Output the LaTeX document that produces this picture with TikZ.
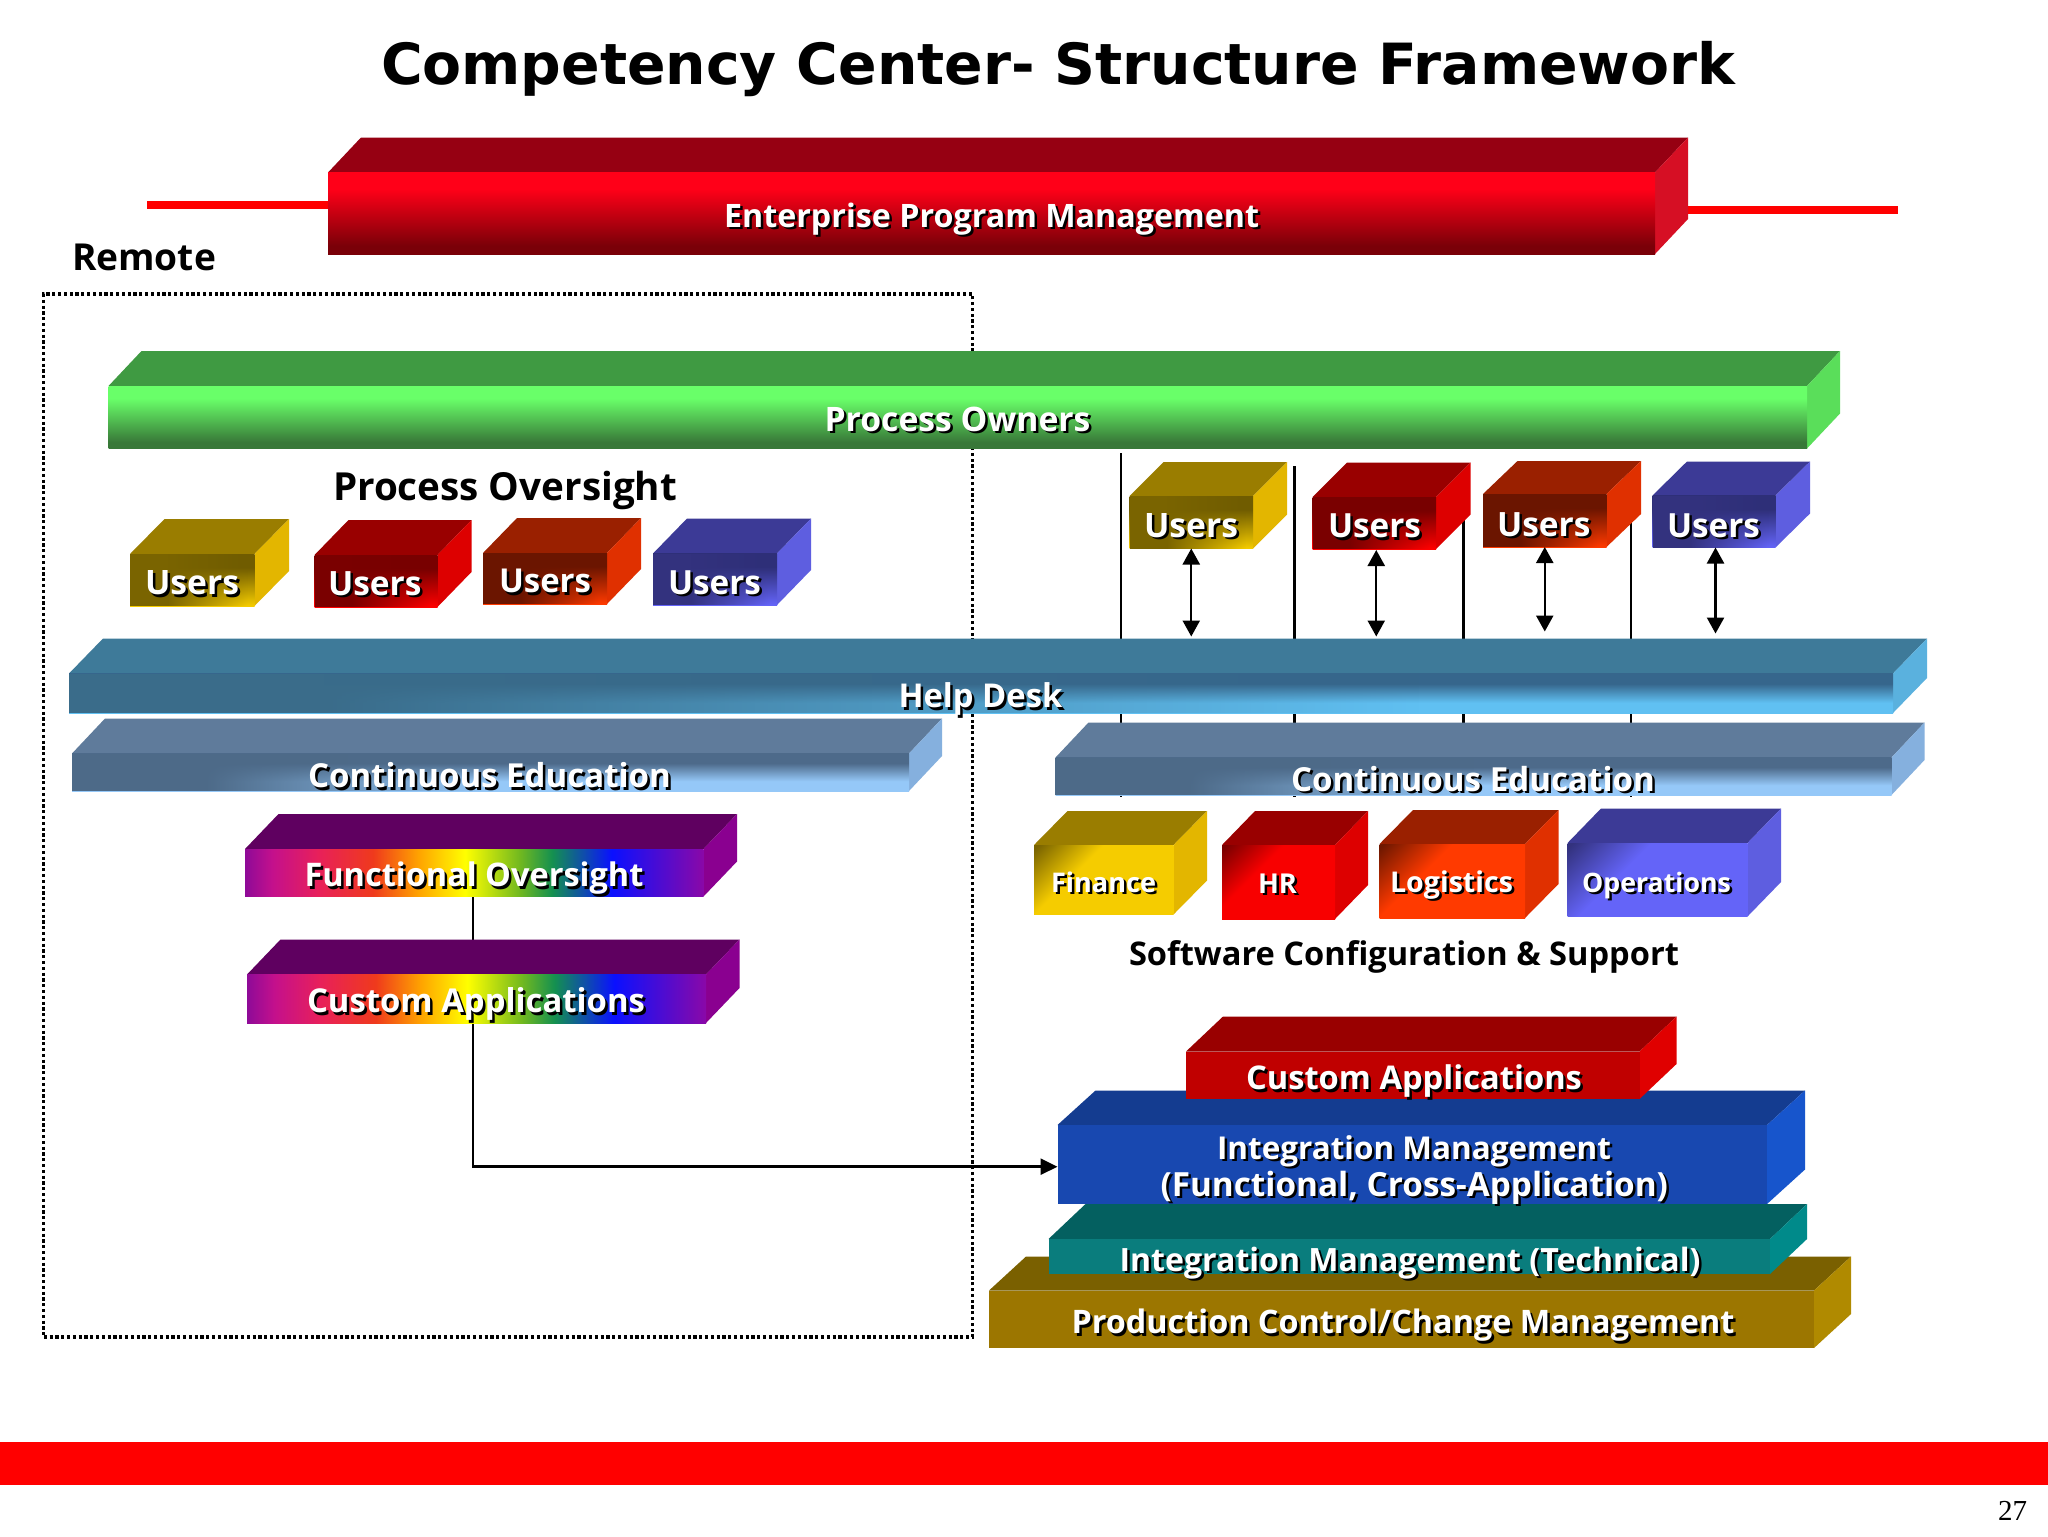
\documentclass[tikz,border=0pt]{standalone}
\usepackage{fontspec}
\usepackage{graphicx}
\setmainfont{Open Sans}[BoldFont={Open Sans Bold}]
\newfontfamily\titlefont{DejaVu Sans}[BoldFont={DejaVu Sans Bold}]
\newfontfamily\numfont{Liberation Serif}
\usetikzlibrary{arrows.meta,calc,fadings}
\pgfdeclarelayer{behind}
\pgfsetlayers{behind,main}
\definecolor{rA}{HTML}{8E0A98}\definecolor{rB}{HTML}{C4108C}\definecolor{rC}{HTML}{E8205A}
\definecolor{rD}{HTML}{EF3A1C}\definecolor{rE}{HTML}{FFA500}\definecolor{rF}{HTML}{FFFF00}
\definecolor{rG}{HTML}{70B820}\definecolor{rH}{HTML}{149050}\definecolor{rI}{HTML}{0A10FF}
\definecolor{rJ}{HTML}{8A08A8}
\definecolor{bA}{HTML}{000000}\definecolor{bB}{HTML}{000000}
\pgfdeclareverticalshading[bA,bB]{vband}{100bp}{color(0bp)=(bB); color(30bp)=(bB); color(65bp)=(bA); color(100bp)=(bA)}
\pgfdeclareverticalshading[bA,bB]{ushade}{100bp}{color(0bp)=(bB); color(25bp)=(bB); color(62bp)=(bA); color(100bp)=(bA)}
\pgfdeclareverticalshading[bA,bB]{dshade}{100bp}{color(0bp)=(bB); color(62bp)=(bB); color(84bp)=(bA); color(100bp)=(bA)}
\pgfdeclareverticalshading[bA,bB]{cshade}{100bp}{color(0bp)=(bB); color(38bp)=(bB); color(62bp)=(bA); color(100bp)=(bA)}
\pgfdeclarehorizontalshading{rainbow}{100bp}{
 color(0bp)=(rA); color(25bp)=(rA); color(28bp)=(rB); color(33bp)=(rC); color(39bp)=(rD);
 color(44bp)=(rE); color(49bp)=(rF); color(55bp)=(rG); color(58.5bp)=(rH);
 color(65bp)=(rI); color(75bp)=(rJ); color(100bp)=(rJ)}
% horizontal fades: opaque at the left, clear further right
\pgfdeclarehorizontalshading{hfuser}{100bp}{color(0bp)=(pgftransparent!0); color(40bp)=(pgftransparent!0); color(72bp)=(pgftransparent!100); color(100bp)=(pgftransparent!100)}
\pgfdeclarehorizontalshading{hfhelp}{100bp}{color(0bp)=(pgftransparent!0); color(32bp)=(pgftransparent!0); color(62bp)=(pgftransparent!100); color(100bp)=(pgftransparent!100)}
\pgfdeclarehorizontalshading{hfedu}{100bp}{color(0bp)=(pgftransparent!0); color(33bp)=(pgftransparent!0); color(50bp)=(pgftransparent!100); color(100bp)=(pgftransparent!100)}
\tikzfading[name=fadeuser,shading=hfuser]
\tikzfading[name=fadehelp,shading=hfhelp]
\tikzfading[name=fadeedu,shading=hfedu]
\definecolor{entT}{HTML}{960012}\definecolor{entS}{HTML}{D60F24}
\definecolor{ownT}{HTML}{3F9A42}\definecolor{ownS}{HTML}{5ADE5A}
\definecolor{goldT}{HTML}{9A7D00}\definecolor{goldS}{HTML}{E3B600}
\definecolor{redT}{HTML}{990000}\definecolor{redS}{HTML}{DD0000}
\definecolor{oraT}{HTML}{9A2000}\definecolor{oraS}{HTML}{E03000}
\definecolor{bluT}{HTML}{3C3A96}\definecolor{bluS}{HTML}{5E5EE0}
\definecolor{hlpT}{HTML}{3E7A99}\definecolor{hlpS}{HTML}{5AB1DE}
\definecolor{eduT}{HTML}{5F7B9B}\definecolor{eduS}{HTML}{85B0DE}
\definecolor{rbwT}{HTML}{5F0060}\definecolor{rbwS}{HTML}{8A0090}
\definecolor{cusT}{HTML}{990000}\definecolor{cusS}{HTML}{E00000}
\definecolor{intT}{HTML}{143C90}\definecolor{intS}{HTML}{1755CC}
\definecolor{tecT}{HTML}{046060}\definecolor{tecS}{HTML}{008A8A}
\definecolor{prdT}{HTML}{7A6000}\definecolor{prdS}{HTML}{B08A00}
\tikzset{
 vfront/.style 2 args={/utils/exec={\definecolor{bA}{HTML}{#1}\definecolor{bB}{HTML}{#2}},shading=vband},
 ufront/.style 2 args={/utils/exec={\definecolor{bA}{HTML}{#1}\definecolor{bB}{HTML}{#2}},shading=ushade},
 dfront/.style 2 args={/utils/exec={\definecolor{bA}{HTML}{#1}\definecolor{bB}{HTML}{#2}},shading=dshade,shading angle=45},
 cfront/.style 2 args={/utils/exec={\definecolor{bA}{HTML}{#1}\definecolor{bB}{HTML}{#2}},shading=cshade},
 rfront/.style={shading=rainbow},
 flatfront/.style={/utils/exec={\definecolor{bA}{HTML}{#1}},fill=bA},
 link/.style={draw=black,line width=1.25pt},
 twoway/.style={draw=black,line width=1.2pt,{Triangle[length=8pt,width=8.5pt]}-{Triangle[length=8pt,width=8.5pt]}},
 lbltext/.style={anchor=base west,inner sep=0pt,outer sep=0pt,font=\bfseries},
}
% name, xl, xr, ytop, ybottom, dx, dy, palette, front style
\newcommand{\solidbar}[9]{%
 \fill[#8T] (#2,#4) -- ({#2+#6},{#4-#7}) -- ({#3+#6},{#4-#7}) -- (#3,#4) -- cycle;
 \fill[#8S] (#3,#4) -- ({#3+#6},{#4-#7}) -- ({#3+#6},{#5-#7}) -- (#3,#5) -- cycle;
 \node[name=#1,rectangle,inner sep=0pt,outer sep=0pt,minimum width={(#3-#2)*0.5pt},minimum height={(#5-#4)*0.5pt},#9] at ({(#2+#3)/2},{(#4+#5)/2}) {};
 \coordinate (#1-back) at ({(#2+#3)/2+#6},{#4-#7});
}
% node, fading, hex colour: darkens the left part of a front face
\newcommand{\leftdark}[3]{%
 \definecolor{ovl}{HTML}{#3}%
 \fill[ovl,path fading=#2] (#1.south west) rectangle (#1.north east);
}
% name, x1, x2, baseline, text
\newcommand{\shadowlbl}[5]{%
 \pgfmathsetlengthmacro{\lblw}{(#3-#2)*0.5pt}%
 \node[lbltext,text=black] at ({#2+2.5},{#4+2.5}) {\resizebox{\lblw}{!}{#5}};
 \node[lbltext,text=white] (#1) at (#2,#4) {\resizebox{\lblw}{!}{#5}};
}
\newcommand{\plainlbl}[5]{%
 \pgfmathsetlengthmacro{\lblw}{(#3-#2)*0.5pt}%
 \node[lbltext,text=black] (#1) at (#2,#4) {\resizebox{\lblw}{!}{#5}};
}
\begin{document}
\begin{tikzpicture}[x=0.5pt,y=-0.5pt]
\useasboundingbox (0,0) rectangle (2048,1536);
% title
\node[lbltext] (title) at (381,84) {\resizebox{677pt}{!}{\titlefont\bfseries Competency Center- Structure Framework}};
% bottom band and page number
\fill[red] (0,1442) rectangle (2048,1485);
\node[lbltext,font=\numfont] (pagenum) at (1998,1520) {\resizebox{14.5pt}{!}{27}};
\plainlbl{remote}{72}{216}{270}{Remote}
\plainlbl{oversight}{333}{677}{500.5}{Process Oversight}
\plainlbl{software}{1129}{1679}{965}{Software Configuration \& Support}
% bars
\solidbar{ent}{328}{1655}{172.5}{254}{33}{35}{ent}{vfront={FF0018}{7A0008}}
\solidbar{own}{108.5}{1807}{386}{448.5}{33}{35}{own}{vfront={69FF69}{387838}}
\solidbar{hlp}{69}{1893}{673.5}{713}{34}{35}{hlp}{cfront={36668C}{60C0F2}}
\leftdark{hlp}{fadehelp}{3A6C8A}
\solidbar{edl}{72}{909}{753.5}{791}{33}{35}{edu}{cfront={4D6A8A}{95C8F8}}
\leftdark{edl}{fadeedu}{4D6A88}
\solidbar{edr}{1055.5}{1891.5}{757.5}{795}{33}{35}{edu}{cfront={4D6A8A}{95C8F8}}
\leftdark{edr}{fadeedu}{4D6A88}
% left users
\solidbar{ua}{130}{254.5}{554}{606}{34.5}{35}{gold}{ufront={705C00}{F5CC00}}\leftdark{ua}{fadeuser}{7A6400}
\solidbar{ub}{314.5}{437.5}{555}{607}{34}{35}{red}{ufront={780000}{FF0000}}\leftdark{ub}{fadeuser}{7A0000}
\solidbar{uc}{483}{607}{553}{604}{34}{35}{ora}{ufront={6B1500}{FF3A00}}\leftdark{uc}{fadeuser}{6B1500}
\solidbar{ud}{653}{777}{553.5}{605}{34}{35}{blu}{ufront={2E2F78}{6464F8}}\leftdark{ud}{fadeuser}{33327E}
% right users
\solidbar{ue}{1129.5}{1253}{496}{548.5}{34}{34}{gold}{ufront={705C00}{F5CC00}}\leftdark{ue}{fadeuser}{7A6400}
\solidbar{uf}{1312.5}{1436}{497}{549}{34.5}{34.5}{red}{ufront={780000}{FF0000}}\leftdark{uf}{fadeuser}{7A0000}
\solidbar{ug}{1483}{1606.5}{494}{547}{34.5}{33}{ora}{ufront={6B1500}{FF3A00}}\leftdark{ug}{fadeuser}{6B1500}
\solidbar{uh}{1652.5}{1775.5}{495.5}{547.5}{34.5}{34}{blu}{ufront={2E2F78}{6464F8}}\leftdark{uh}{fadeuser}{33327E}
% departments
\solidbar{fin}{1034}{1173.5}{845}{914.5}{33.5}{34}{gold}{dfront={7A6400}{F5CC00}}
\solidbar{hr}{1222}{1335}{845}{919}{33}{34}{red}{dfront={7A0000}{F80000}}
\solidbar{log}{1379.5}{1525}{844}{918}{33.5}{34}{ora}{dfront={701800}{FF3A00}}
\solidbar{ops}{1567.5}{1747.5}{843}{916.5}{33.5}{34.5}{blu}{dfront={33327E}{6464F8}}
% rainbow bars
\solidbar{fo}{245}{703.5}{849}{896.5}{33.5}{35}{rbw}{rfront}
\solidbar{ca}{247}{706}{974.5}{1023}{33.5}{35}{rbw}{rfront}
% stack
\solidbar{prd}{989}{1814}{1290.5}{1348}{37}{34}{prd}{flatfront=9C7600}
\solidbar{tec}{1048.5}{1770}{1239}{1274}{37}{35}{tec}{flatfront=0A7D7D}
\solidbar{int}{1057.5}{1767}{1125}{1204}{38}{34.5}{int}{flatfront=1848B0}
\solidbar{cus}{1186}{1639.5}{1051.5}{1099}{37}{35}{cus}{flatfront=C00000}
% labels on bars
\shadowlbl{tent}{724}{1259}{227}{Enterprise Program Management}
\shadowlbl{town}{824.5}{1090.5}{431}{Process Owners}
\shadowlbl{thlp}{898.5}{1062.5}{707.5}{Help Desk}
\shadowlbl{tedl}{308}{671}{787.5}{Continuous Education}
\shadowlbl{tedr}{1291}{1655}{791}{Continuous Education}
\shadowlbl{tua}{145}{239}{594.5}{Users}
\shadowlbl{tub}{328}{421.5}{595}{Users}
\shadowlbl{tuc}{499}{591}{592.5}{Users}
\shadowlbl{tud}{668}{761}{594}{Users}
\shadowlbl{tue}{1144}{1238}{537}{Users}
\shadowlbl{tuf}{1328}{1421}{537.5}{Users}
\shadowlbl{tug}{1497}{1590.5}{536}{Users}
\shadowlbl{tuh}{1667}{1760}{537}{Users}
\shadowlbl{tfin}{1051}{1156}{892}{Finance}
\shadowlbl{thr}{1258}{1297}{893}{HR}
\shadowlbl{tlog}{1390}{1513}{892}{Logistics}
\shadowlbl{tops}{1582}{1731}{892}{Operations}
\shadowlbl{tfo}{304.5}{643.5}{886.5}{Functional Oversight}
\shadowlbl{tca}{307}{645}{1012.5}{Custom Applications}
\shadowlbl{tcus}{1246}{1582}{1089.5}{Custom Applications}
\shadowlbl{tinta}{1217}{1611}{1159}{Integration Management}
\shadowlbl{tintb}{1160.5}{1668}{1196}{(Functional, Cross-Application)}
\shadowlbl{ttec}{1119.5}{1700.5}{1271}{Integration Management (Technical)}
\shadowlbl{tprd}{1071.5}{1734.5}{1333.5}{Production Control/Change Management}
% connectors and frame, behind everything
\begin{pgfonlayer}{behind}
\fill[white] (0,0) rectangle (2048,1536);
\node[name=remotebox,rectangle,draw=black,line width=1.7pt,dash pattern=on 1.6pt off 1.3pt,inner sep=0pt,minimum width=464.25pt,minimum height=521.5pt] at (508,815.5) {};
\coordinate (rl1) at (147,204.5);
\coordinate (rl2) at (1898,210);
\draw[red,line width=4pt] (rl1) -- (ent.west |- rl1);
\draw[red,line width=4pt] (ent.east |- rl2) -- (rl2);
\foreach \n/\x/\yt/\yb in {a/1121/453/797,b/1294.6/466.4/797,c/1463.6/520/790,d/1631/520/797}{
  \coordinate (v\n t) at (\x,\yt);
  \coordinate (v\n b) at (\x,\yb);
  \draw[link] (v\n t) -- (v\n b);
}
\draw[link] ($(fo.south)+(-1.2,0)$) -- ($(fo.south |- ca-back)+(-1.2,0)$);
\draw[link,-{Triangle[length=8.5pt,width=8pt]}] ($(fo.south |- ca.south)+(-1.2,0)$) -- ($(fo.south |- int.west)+(-1.2,2.2)$) -- ($(int.west)+(0,2.2)$);
\end{pgfonlayer}
% two-way arrows between users and the help desk
\draw[twoway,shorten >=1pt] (ue.south) -- (ue.south |- hlp-back);
\draw[twoway,shorten >=1pt] ($(uf.south)+(2,1)$) -- ($(uf.south |- hlp-back)+(2,0)$);
\draw[twoway,shorten >=3.5pt] (ug.south) -- (ug.south |- hlp-back);
\draw[twoway,shorten >=2.5pt] ($(uh.south)+(1.5,0)$) -- ($(uh.south |- hlp-back)+(1.5,0)$);
\end{tikzpicture}
\end{document}
